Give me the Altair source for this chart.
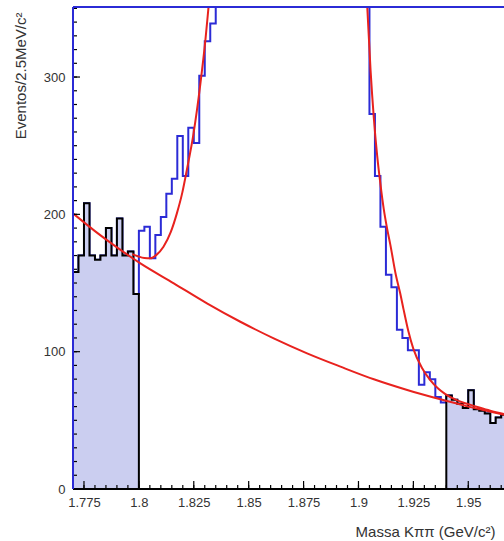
import altair as alt
import pandas as pd
import numpy as np

BLUE = "#2b2bd6"
RED = "#e8221e"
FILL = "#cbcef0"
TXT = "#333333"

# ---------------- data ----------------
bin_start = 1.77
bin_width = 0.0025
counts = [158, 170, 208, 170, 167, 170, 190, 170, 197, 170, 173, 142,
          188, 191, 168, 185, 198, 215, 226, 257, 228, 263, 252, 301, 326, 339,
          375, 420, 480, 550, 630, 710, 790, 860, 930, 980, 1020, 1045, 1050, 1040,
          1010, 965, 905, 840, 770, 700, 630, 560, 500, 450, 410, 385, 365, 355,
          273, 228, 191, 156, 147, 116, 110, 101, 101, 76, 85, 80, 67, 63,
          68, 65, 62, 59, 72, 58, 57, 55, 48, 52, 54, 53]

sideband_left = (1.77, 1.80)
sideband_right = (1.94, 1.97)

bkg_m = [1.770, 1.780, 1.790, 1.8007, 1.8159, 1.831, 1.8462, 1.8614, 1.8766,
         1.8918, 1.907, 1.9222, 1.9373, 1.950, 1.9665]
bkg_v = [200.7, 187.8, 176.0, 164.3, 149.8, 135.2, 121.8, 109.7, 98.8,
         89.1, 79.9, 72.1, 65.3, 60.0, 54.0]

fitL_m = [1.797, 1.7995, 1.8025, 1.8052, 1.808, 1.8112, 1.8145, 1.8173, 1.8198,
          1.8218, 1.8249, 1.828, 1.8303, 1.8317, 1.8326]
fitL_v = [171, 169.5, 168.2, 168, 170.5, 176.4, 187, 200.7, 216,
          232, 259, 295, 327, 350.7, 366]

fitR_m = [1.9033, 1.904, 1.9055, 1.907, 1.9085, 1.910, 1.9115, 1.913, 1.9145,
          1.917, 1.919, 1.9205, 1.9227, 1.925, 1.9288, 1.9326, 1.9364, 1.9394,
          1.945, 1.950, 1.955, 1.960, 1.9665]
fitR_v = [368, 351, 305, 270, 243, 222, 204, 190, 178,
          156, 142.5, 131, 115, 102, 88.5, 79.5, 73, 69.3,
          64.5, 61.8, 59.3, 57, 54.6]

x_major = [1.775, 1.8, 1.825, 1.85, 1.875, 1.9, 1.925, 1.95]
x_minor = [round(1.77 + 0.005 * i, 3) for i in range(40)]
y_major = [0, 100, 200, 300]
y_minor = list(range(0, 351, 10))

x_title = "Massa K\u03c0\u03c0 (GeV/c\u00b2)"
y_title = "Eventos/2.5MeV/c\u00b2"

x_domain = [1.77, 1.96627]
y_domain = [0, 351]
W, H = 431, 482

# ---------------- frames ----------------
edges = np.round(bin_start + bin_width * np.arange(len(counts) + 1), 5)
hist_df = pd.DataFrame({"m": edges, "n": counts + [counts[-1]]})


def sideband(lo, hi):
    i0 = int(round((lo - bin_start) / bin_width))
    i1 = int(round((hi - bin_start) / bin_width))
    rows = []
    for i in range(i0, i1 + 1):
        j = min(i, i1 - 1, len(counts) - 1)
        rows.append({"m": round(bin_start + bin_width * i, 5), "n": counts[j]})
    return pd.DataFrame(rows)


sbL = sideband(*sideband_left)
sbR = sideband(*sideband_right)
bkg_df = pd.DataFrame({"m": bkg_m, "v": bkg_v})
fit_df = pd.concat([
    pd.DataFrame({"m": fitL_m, "v": fitL_v, "seg": "L"}),
    pd.DataFrame({"m": fitR_m, "v": fitR_v, "seg": "R"}),
])

xs = alt.Scale(domain=x_domain, nice=False, zero=False)
ys = alt.Scale(domain=y_domain, nice=False, zero=False)

x_axis = alt.Axis(
    values=x_major, format=".3~f", ticks=False, domain=False, grid=False,
    labelPadding=7.5, labelFontSize=13, labelColor=TXT, labelFlush=False,
    labelOverlap=False,
    title=x_title, titleFontSize=15, titleFontWeight="normal", titleColor=TXT,
    titleX=422, titleY=47.7, titleAlign="right", titleBaseline="alphabetic",
)
y_axis = alt.Axis(
    values=y_major, format="d", ticks=False, domain=False, grid=False,
    labelPadding=8, labelFontSize=13, labelColor=TXT, labelFlush=False,
    labelOverlap=False,
    title=y_title, titleFontSize=15, titleFontWeight="normal", titleColor=TXT,
    titleAngle=270, titleX=-53, titleY=5, titleAlign="right", titleBaseline="middle",
)


def X(field):
    return alt.X(field, type="quantitative", scale=xs, axis=x_axis)


def Y(field):
    return alt.Y(field, type="quantitative", scale=ys, axis=y_axis)


hist = alt.Chart(hist_df).mark_line(interpolate="step-after", color=BLUE,
                                     strokeWidth=2, clip=True).encode(x=X("m"), y=Y("n"))


def sb_layer(df):
    return alt.Chart(df).mark_area(interpolate="step-after", fill=FILL, stroke="black",
                                   strokeWidth=2, clip=True).encode(x=X("m"), y=Y("n"))


bkg = alt.Chart(bkg_df).mark_line(interpolate="monotone", color=RED, strokeWidth=2,
                                   clip=True).encode(x=X("m"), y=Y("v"))
fit = alt.Chart(fit_df).mark_line(interpolate="monotone", color=RED, strokeWidth=2,
                                   clip=True).encode(x=X("m"), y=Y("v"), detail="seg:N")


def xticks(vals, length):
    return alt.Chart(pd.DataFrame({"m": vals})).mark_tick(
        orient="vertical", size=length, thickness=1.2, color="black", opacity=1,
    ).encode(x=X("m"), y=alt.value(H - length / 2))


def yticks(vals, length):
    return alt.Chart(pd.DataFrame({"n": vals})).mark_tick(
        orient="horizontal", size=length, thickness=1.2, color="black", opacity=1,
    ).encode(y=Y("n"), x=alt.value(length / 2))


frame_left = alt.Chart(pd.DataFrame({"a": [0]})).mark_rule(color=BLUE, strokeWidth=2).encode(
    x=alt.value(0), y=alt.value(0), y2=alt.value(H),
)
top_line = alt.Chart(pd.DataFrame({"a": [0]})).mark_rule(color=BLUE, strokeWidth=2).encode(
    y=alt.value(0), x=alt.value(0), x2=alt.value(W),
)
bottom_line = alt.Chart(pd.DataFrame({"a": [0]})).mark_rule(color="black", strokeWidth=2).encode(
    y=alt.value(H), x=alt.value(0), x2=alt.value(W),
)

chart = alt.layer(
    hist, sb_layer(sbL), sb_layer(sbR), bkg, fit,
    xticks(x_minor, 4), xticks(x_major, 8), yticks(y_minor, 4), yticks(y_major, 7),
    bottom_line, frame_left, top_line,
).properties(
    width=W, height=H,
    background="white",
    autosize=alt.AutoSizeParams(type="none"),
    padding={"left": 73, "top": 7, "right": 0, "bottom": 52},
).configure_view(stroke="transparent")

chart.save("out.html", embed_options={"renderer": "svg", "actions": False})
